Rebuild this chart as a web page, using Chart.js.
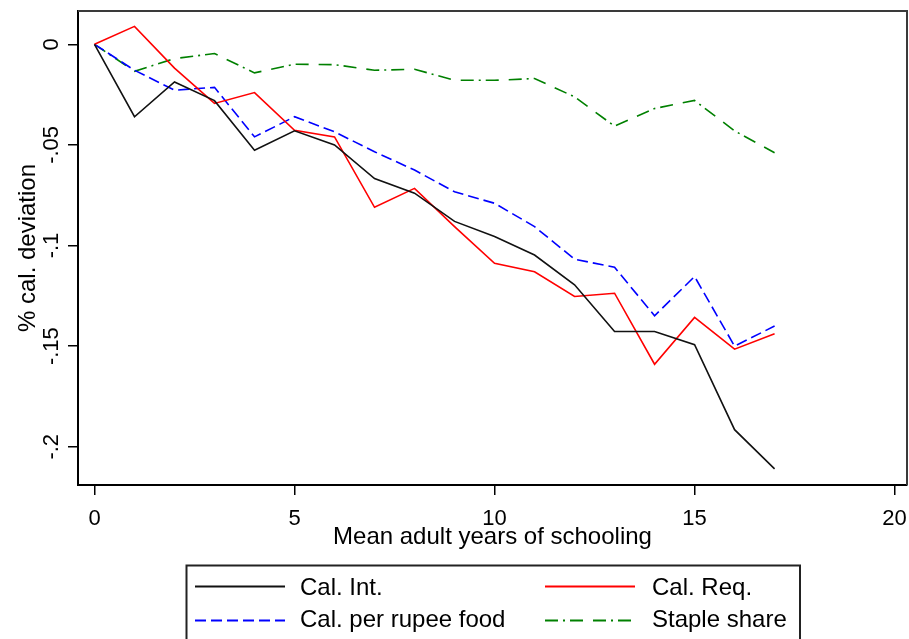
<!DOCTYPE html>
<html>
<head>
<meta charset="utf-8">
<script src="https://cdn.jsdelivr.net/npm/chart.js@4/dist/chart.umd.min.js"></script>
<style>
  html, body { margin: 0; padding: 0; background: #fff; }
  #wrap { width: 909px; height: 639px; position: relative; }
</style>
</head>
<body>
<div id="wrap"><canvas id="chart" width="909" height="639"></canvas></div>
<script>
// Mean adult years of schooling (x positions of every series)
const schooling = [0, 1, 2, 3, 4, 5, 6, 7, 8, 9, 10, 11, 12, 13, 14, 15, 16, 17];

// % calorie deviation by schooling level
const calInt      = [0, -0.036, -0.0187, -0.028, -0.0526, -0.043, -0.050, -0.0667, -0.074, -0.088, -0.0955, -0.1047, -0.1195, -0.1427, -0.1427, -0.1493, -0.1915, -0.211];
const calReq      = [0, 0.0089, -0.0118, -0.0294, -0.024, -0.0427, -0.046, -0.081, -0.0716, -0.0906, -0.1088, -0.113, -0.1253, -0.1237, -0.159, -0.1357, -0.1515, -0.1438];
const calPerRupee = [0, -0.0129, -0.0228, -0.0214, -0.046, -0.036, -0.0435, -0.0534, -0.0625, -0.0733, -0.079, -0.0906, -0.1068, -0.1108, -0.1349, -0.1154, -0.150, -0.140];
const stapleShare = [0, -0.0134, -0.0071, -0.0046, -0.0142, -0.0099, -0.0101, -0.0129, -0.0124, -0.0179, -0.0179, -0.017, -0.0261, -0.0407, -0.0319, -0.0279, -0.043, -0.0539];

// Series names
const seriesNames = ['Cal. Int.', 'Cal. Req.', 'Cal. per rupee food', 'Staple share'];

// Axis ticks and titles
const xTicks = [0, 5, 10, 15, 20];
const xTickLabels = ['0', '5', '10', '15', '20'];
const yTicks = [0, -0.05, -0.1, -0.15, -0.2];
const yTickLabels = ['0', '-.05', '-.1', '-.15', '-.2'];
const xTitle = 'Mean adult years of schooling';
const yTitle = '% cal. deviation';

const FONT = '"Liberation Sans", Arial, sans-serif';

function toPoints(values) {
  return schooling.map((x, i) => ({ x: x, y: values[i] }));
}

const seriesStyles = [
  { color: '#111111', dash: [] },
  { color: '#ff0000', dash: [] },
  { color: '#0000ff', dash: [11, 5] },
  { color: '#008000', dash: [13, 5, 2, 5, 13, 10] }
];

const seriesValues = [calInt, calReq, calPerRupee, stapleShare];

const datasets = seriesValues.map((vals, i) => ({
  label: seriesNames[i],
  data: toPoints(vals),
  borderColor: seriesStyles[i].color,
  backgroundColor: seriesStyles[i].color,
  borderDash: seriesStyles[i].dash,
  borderWidth: 1.6,
  pointRadius: 0,
  tension: 0,
  fill: false
}));

// Draws the frame, tick labels, axis titles and the boxed two-column legend
const decorations = {
  id: 'decorations',
  afterDraw(chart) {
    const ctx = chart.ctx;
    const area = chart.chartArea;
    const xs = chart.scales.x;
    const ys = chart.scales.y;
    ctx.save();

    // top and right edges of the plot frame
    ctx.strokeStyle = '#3a3a3a';
    ctx.lineWidth = 2;
    ctx.beginPath();
    ctx.moveTo(area.left, area.top);
    ctx.lineTo(area.right, area.top);
    ctx.lineTo(area.right, area.bottom);
    ctx.stroke();

    ctx.fillStyle = '#000';

    // x tick labels
    ctx.font = '22px ' + FONT;
    ctx.textAlign = 'center';
    ctx.textBaseline = 'alphabetic';
    xTicks.forEach((v, i) => {
      ctx.fillText(xTickLabels[i], xs.getPixelForValue(v), 524.5);
    });

    // y tick labels, rotated
    yTicks.forEach((v, i) => {
      ctx.save();
      ctx.translate(57.5, ys.getPixelForValue(v));
      ctx.rotate(-Math.PI / 2);
      ctx.fillText(yTickLabels[i], 0, 0);
      ctx.restore();
    });

    // axis titles
    ctx.font = '24px ' + FONT;
    ctx.fillText(xTitle, (area.left + area.right) / 2, 544);
    ctx.save();
    ctx.translate(34.5, (area.top + area.bottom) / 2);
    ctx.rotate(-Math.PI / 2);
    ctx.fillText(yTitle, 0, 0);
    ctx.restore();

    // legend box
    ctx.strokeStyle = '#222';
    ctx.lineWidth = 2;
    ctx.strokeRect(186.5, 565.5, 613.5, 100);

    const cols = [{ x0: 195, x1: 285, tx: 300 }, { x0: 545, x1: 635, tx: 652 }];
    const rows = [{ ly: 586.5, ty: 595 }, { ly: 620.5, ty: 627 }];
    ctx.textAlign = 'left';
    chart.data.datasets.forEach((ds, i) => {
      const c = cols[i % 2];
      const r = rows[Math.floor(i / 2)];
      ctx.save();
      ctx.strokeStyle = ds.borderColor;
      ctx.lineWidth = 2;
      ctx.setLineDash(ds.borderDash || []);
      ctx.beginPath();
      ctx.moveTo(c.x0, r.ly);
      ctx.lineTo(c.x1, r.ly);
      ctx.stroke();
      ctx.restore();
      ctx.fillStyle = '#000';
      ctx.font = '24px ' + FONT;
      ctx.fillText(ds.label, c.tx, r.ty);
    });

    ctx.restore();
  }
};

new Chart(document.getElementById('chart'), {
  type: 'line',
  data: { datasets: datasets },
  plugins: [decorations],
  options: {
    responsive: false,
    animation: false,
    devicePixelRatio: 1,
    layout: { padding: { top: 11, right: 2, left: 0, bottom: 0 } },
    plugins: {
      legend: { display: false },
      tooltip: { enabled: false }
    },
    scales: {
      x: {
        type: 'linear',
        min: -0.4125,
        max: 20.31,
        afterBuildTicks: (scale) => { scale.ticks = xTicks.map(v => ({ value: v })); },
        afterFit: (scale) => { scale.height = 154; },
        ticks: { display: false },
        grid: { drawOnChartArea: false, drawTicks: true, tickLength: 10, color: '#000', lineWidth: 1.5 },
        border: { display: true, color: '#000', width: 2 }
      },
      y: {
        type: 'linear',
        min: -0.219,
        max: 0.01655,
        afterBuildTicks: (scale) => { scale.ticks = yTicks.map(v => ({ value: v })); },
        afterFit: (scale) => { scale.width = 78; },
        ticks: { display: false },
        grid: { drawOnChartArea: false, drawTicks: true, tickLength: 10, color: '#000', lineWidth: 1.5 },
        border: { display: true, color: '#000', width: 2 }
      }
    }
  }
});
</script>
</body>
</html>
